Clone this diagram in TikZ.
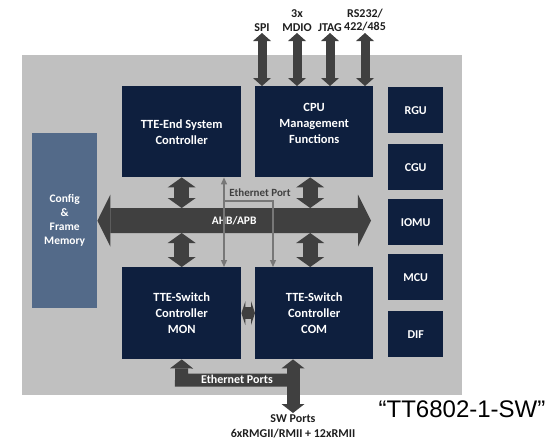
\documentclass[tikz,border=0pt]{standalone}
\usepackage{fontspec}
\setmainfont{Carlito}
\newfontfamily\arialf{Liberation Sans}
\usetikzlibrary{arrows.meta}
\definecolor{navy}{HTML}{0E1F3E}
\definecolor{cfgblue}{HTML}{536A89}
\definecolor{chipgray}{HTML}{C0C0C0}
\definecolor{arrgray}{HTML}{404040}
\definecolor{linegray}{HTML}{777777}
\definecolor{lbl}{HTML}{1E1E1E}
\tikzset{
  block/.style={fill=navy, text=white, font=\bfseries\fontsize{12.5}{16}\selectfont,
    align=center, inner sep=0pt, anchor=north west},
  cfgbox/.style={fill=cfgblue, text=white, font=\bfseries\fontsize{11.5}{14}\selectfont,
    align=center, inner sep=0pt, anchor=north west, minimum width=65pt, minimum height=175pt},
  smallbox/.style={block, minimum width=55pt, minimum height=46pt, font=\bfseries\fontsize{12}{14}\selectfont},
  busarrow/.style={draw=arrgray, line width=25pt,
    {Triangle[length=13pt,width=52pt,line width=0pt]}-{Triangle[length=13pt,width=52pt,line width=0pt]}},
  varrow/.style={draw=arrgray, line width=15pt,
    {Triangle[length=10pt,width=28pt,line width=0pt]}-{Triangle[length=10pt,width=28pt,line width=0pt]}},
  toparrow/.style={draw=arrgray, line width=9pt,
    {Triangle[length=8pt,width=18pt,line width=0pt]}-{Triangle[length=8pt,width=18pt,line width=0pt]}},
  harrow/.style={draw=arrgray, line width=12pt,
    {Triangle[length=4pt,width=24pt,line width=0pt]}-{Triangle[length=4pt,width=24pt,line width=0pt]}},
  ebus/.style={draw=arrgray, line width=13pt, line join=miter},
  ebtip/.tip={Triangle[length=9pt,width=23pt,line width=0pt]},
  thinline/.style={draw=linegray, line width=1.2pt},
  thtip/.tip={Triangle[length=7pt,width=6pt]},
  toplabel/.style={font=\bfseries\fontsize{12}{13.5}\selectfont, text=lbl, align=center, anchor=south, inner sep=1.5pt},
}
\begin{document}
\begin{tikzpicture}[x=1pt,y=-1pt]
\useasboundingbox (0,0) rectangle (555,445);
\node[fill=chipgray, anchor=north west, inner sep=0pt, minimum width=440pt, minimum height=340pt] (chip) at (22,55) {};

% blocks
\node[block, minimum width=119pt, minimum height=91pt] (tte) at (122,86) {TTE-End System\\Controller};
\node[block, minimum width=118pt, minimum height=91pt] (cpu) at (255,86) {CPU\\Management\\Functions\\\mbox{}};
\node[block, minimum width=119pt, minimum height=92pt] (mon) at (122,267) {TTE-Switch\\Controller\\MON};
\node[block, minimum width=118pt, minimum height=92pt] (com) at (255,267) {TTE-Switch\\Controller\\COM};
\node[cfgbox] (cfg) at (32,133) {Config\\\&\\Frame\\Memory};

\node[smallbox] (rgu) at (388,87) {RGU};
\node[smallbox] (cgu) at (388,144) {CGU};
\node[smallbox] (iomu) at (388,199) {IOMU};
\node[smallbox] (mcu) at (388,254) {MCU};
\node[smallbox] (dif) at (388,311) {DIF};

% bus
\coordinate (busR) at (371,220.5);
\coordinate (bustop) at (0,208);
\coordinate (busbot) at (0,233);
\draw[busarrow] (cfg.east) -- (busR);
\path (cfg.east) -- node[text=white, font=\bfseries\fontsize{11.5}{13}\selectfont] (bus) {AHB/APB} (busR);

\draw[varrow] (tte.south) -- (tte.south |- bustop);
\draw[varrow] ([xshift=-4pt]cpu.south) -- ([xshift=-4pt]cpu.south |- bustop);
\draw[varrow] (mon.north) -- (mon.north |- busbot);
\draw[varrow] ([xshift=-4pt]com.north) -- ([xshift=-4pt]com.north |- busbot);

% Ethernet port thin lines
\coordinate (epx) at (224,0);
\coordinate (epj) at (224,201);
\coordinate (epk) at (273,201);
\coordinate (epz) at (273,0);
\draw[thinline, thtip-thtip] (tte.south -| epx) -- (mon.north -| epx);
\draw[thinline, -thtip] (epj) -- (epk) -- (com.north -| epz);
\node[font=\bfseries\fontsize{11}{12}\selectfont, text=arrgray, inner sep=0pt] (eplbl) at (260,193) {Ethernet Port};

% MON-COM
\draw[harrow] (mon.east) -- (com.west);

% top interfaces
\node[toplabel] (spi) at (262,33) {SPI};
\node[toplabel] (mdio) at (297,33) {3x\\MDIO};
\node[toplabel] (jtag) at (330,33) {JTAG};
\node[toplabel] (rs) at (365,33) {RS232/\\422/485};
\draw[toparrow] (spi.south) -- (cpu.north -| spi.south);
\draw[toparrow] (mdio.south) -- (cpu.north -| mdio.south);
\draw[toparrow] (jtag.south) -- (cpu.north -| jtag.south);
\draw[toparrow] (rs.south) -- (cpu.north -| rs.south);

% bottom ethernet ports
\node[font=\bfseries\fontsize{12}{15}\selectfont, text=lbl, align=center, anchor=north, inner sep=1pt] (sw) at (293,413) {SW Ports\\6xRMGII/RMII + 12xRMII};
\coordinate (ej1) at (181.5,380);
\coordinate (ej2) at (293,380);
\draw[ebus, ebtip-] (mon.south) -- (ej1) -- (ej2);
\draw[ebus, ebtip-ebtip] (com.south -| sw.north) -- (sw.north);
\node[text=white, font=\bfseries\fontsize{12}{13}\selectfont, inner sep=0pt] (eplbl2) at (237,379) {Ethernet Ports};

% part name
\node[font=\arialf\fontsize{24}{28}\selectfont, anchor=base, inner sep=0pt] (part) at (462,417) {“TT6802-1-SW”};
\end{tikzpicture}
\end{document}
